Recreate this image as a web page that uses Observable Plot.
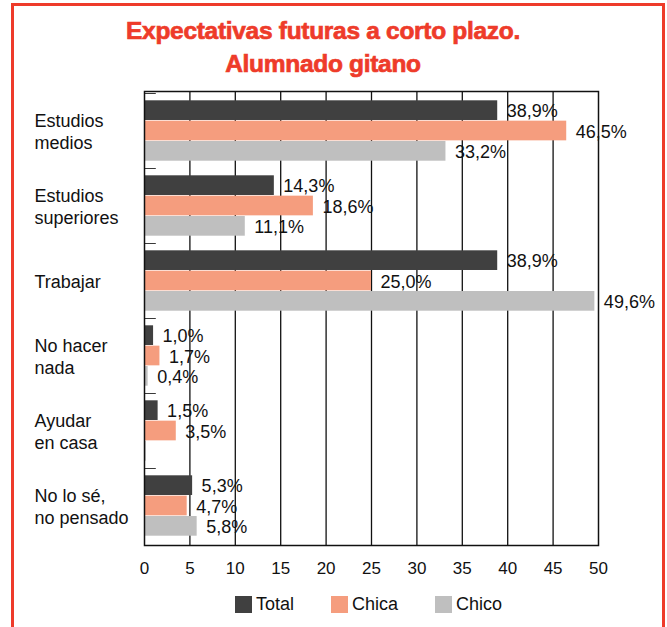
<!DOCTYPE html>
<html>
<head>
<meta charset="utf-8">
<script src="https://cdn.jsdelivr.net/npm/d3@7"></script>
<script src="https://cdn.jsdelivr.net/npm/@observablehq/plot@0.6"></script>
<style>
  html, body { margin: 0; padding: 0; background: #fff; }
  body { position: relative; width: 667px; height: 627px; overflow: hidden; font-family: "Liberation Sans", Arial, sans-serif; }
  #frame { position: absolute; left: 11px; top: 3px; width: 648px; height: 700px; border: 3px solid #EE3B2A; border-bottom: none; }
  #title { position: absolute; left: 0; top: 14px; width: 646px; text-align: center; color: #EE3B2A; font-weight: bold; font-size: 24.5px; line-height: 33px; -webkit-text-stroke: 0.7px #EE3B2A; letter-spacing: -0.3px; }
  #chart { position: absolute; left: 0; top: 80px; }
  #legend { position: absolute; left: 235px; top: 594px; display: flex; align-items: center; font-size: 18px; color: #111; }
  #legend .item { display: flex; align-items: center; margin-right: 37px; }
  #legend .sw { width: 17px; height: 17px; margin-right: 4px; }
</style>
</head>
<body>
<div id="frame"></div>
<div id="title">Expectativas futuras a corto plazo.<br>Alumnado gitano</div>
<div id="chart"></div>
<div id="legend"></div>
<script>
// ---- data ----
const categories = ["Estudios medios", "Estudios superiores", "Trabajar", "No hacer nada", "Ayudar en casa", "No lo sé, no pensado"];
const categoryLabels = ["Estudios\nmedios", "Estudios\nsuperiores", "Trabajar", "No hacer\nnada", "Ayudar\nen casa", "No lo sé,\nno pensado"];
const series = ["Total", "Chica", "Chico"];
const totalValues = [38.9, 14.3, 38.9, 1.0, 1.5, 5.3];
const chicaValues = [46.5, 18.6, 25.0, 1.7, 3.5, 4.7];
const chicoValues = [33.2, 11.1, 49.6, 0.4, 0.2, 5.8];
const totalLabels = ["38,9%", "14,3%", "38,9%", "1,0%", "1,5%", "5,3%"];
const chicaLabels = ["46,5%", "18,6%", "25,0%", "1,7%", "3,5%", "4,7%"];
const chicoLabels = ["33,2%", "11,1%", "49,6%", "0,4%", "", "5,8%"];
const xTicks = [0, 5, 10, 15, 20, 25, 30, 35, 40, 45, 50];
const colors = ["#404040", "#F59D7E", "#BFBFBF"];

// ---- table ----
const valuesBySeries = [totalValues, chicaValues, chicoValues];
const labelsBySeries = [totalLabels, chicaLabels, chicoLabels];
const rows = series.flatMap((s, si) => categories.map((c, ci) => ({
  category: c, series: s, value: valuesBySeries[si][ci], label: labelsBySeries[si][ci]
})));

// ---- layout ----
const width = 667, height = 500;
const marginTop = 11, marginBottom = 35, marginLeft = 144, marginRight = 69;
const BW = (height - marginTop - marginBottom) / categories.length; // band height
const pad = 7.3;
const barH = (BW - 2 * pad) / 3;

const seriesMarks = series.map((s, si) => {
  const data = rows.filter(d => d.series === s);
  const insetTop = pad + si * barH;
  const insetBottom = BW - insetTop - barH;
  return Plot.barX(data, {x: "value", y: "category", fill: colors[si], insetTop, insetBottom});
});
const labelMarks = series.map((s, si) => {
  const data = rows.filter(d => d.series === s);
  const insetTop = pad + si * barH;
  const dy = (insetTop + barH / 2) - BW / 2;
  return Plot.text(data, {x: "value", y: "category", text: "label", dx: 9, dy: dy + 1, textAnchor: "start", fontSize: 18, fill: "#111"});
});

const chart = Plot.plot({
  width, height, marginTop, marginBottom, marginLeft, marginRight,
  style: {fontFamily: "'Liberation Sans', Arial, sans-serif", fontSize: "17px", color: "#111", background: "transparent", overflow: "visible"},
  x: {domain: [0, 50], ticks: xTicks, label: null},
  y: {domain: categories, padding: 0, axis: null},
  marks: [
    Plot.ruleX(xTicks.slice(1, -1), {stroke: "#111", strokeWidth: 1.3}),
    ...seriesMarks,
    Plot.frame({stroke: "#111", strokeWidth: 1.5}),
    Plot.barX(categories, {y: d => d, x1: 0, x2: 1.3, insetBottom: BW - 1.5, fill: "#111"}),
    ...labelMarks,
    Plot.text(categories, {y: d => d, text: (d, i) => categoryLabels[i], frameAnchor: "left", textAnchor: "start", dx: -(marginLeft - 34), lineHeight: 1.25, fontSize: 18, fill: "#111"}),
    Plot.axisX({ticks: xTicks, tickSize: 0, tickPadding: 16, fontSize: 17, label: null, tickFormat: d => String(d)})
  ]
});
document.getElementById("chart").appendChild(chart);

// ---- legend ----
const legend = document.getElementById("legend");
series.forEach((s, i) => {
  const item = document.createElement("div");
  item.className = "item";
  const sw = document.createElement("div");
  sw.className = "sw";
  sw.style.background = colors[i];
  const t = document.createElement("span");
  t.textContent = s;
  item.appendChild(sw); item.appendChild(t);
  legend.appendChild(item);
});
</script>
</body>
</html>
